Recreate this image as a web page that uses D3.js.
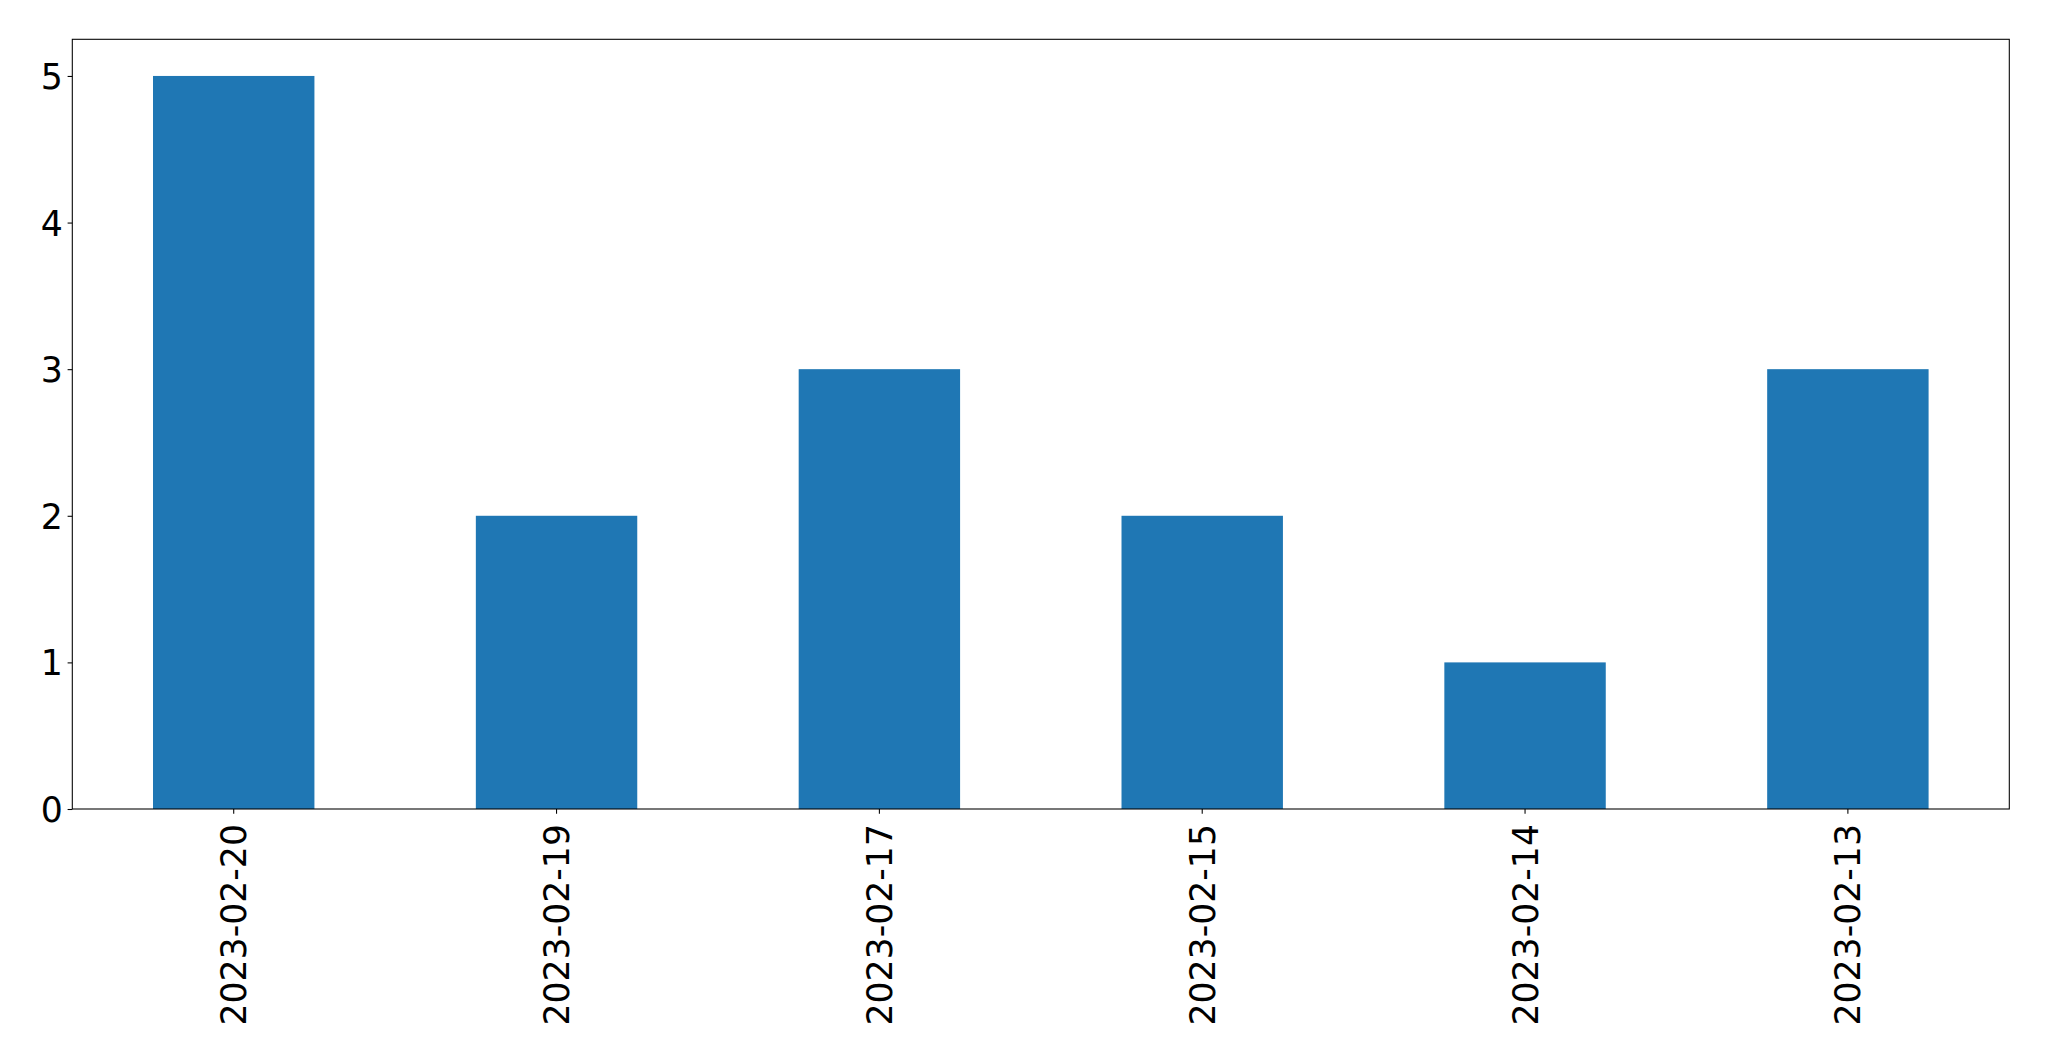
<!DOCTYPE html>
<html>
<head>
<meta charset="utf-8">
<script src="https://cdn.jsdelivr.net/npm/d3@7"></script>
<style>
html, body { margin: 0; padding: 0; background: #fff; }
svg { display: block; }
text { font-family: "DejaVu Sans", sans-serif; fill: #000; }
</style>
</head>
<body>
<script>
const categories = ["2023-02-20", "2023-02-19", "2023-02-17", "2023-02-15", "2023-02-14", "2023-02-13"];
const values = [5, 2, 3, 2, 1, 3];
const yTicks = [0, 1, 2, 3, 4, 5];

(function () {
const W = 2049, H = 1061;
const mLeft = 72.3, mRight = 2009.3, mTop = 39.3, mBottom = 809;
const fontSize = 34.7;

const svg = d3.select("body").append("svg").attr("width", W).attr("height", H);

const x = d3.scaleBand().domain(categories).range([mLeft, mRight]).paddingInner(0.5).paddingOuter(0.25);
const y = d3.scaleLinear().domain([0, 5.25]).range([mBottom, mTop]);

svg.append("g").selectAll("rect").data(values).join("rect")
  .attr("x", (d, i) => x(categories[i]))
  .attr("width", x.bandwidth())
  .attr("y", d => y(d))
  .attr("height", d => y(0) - y(d))
  .attr("fill", "#1f77b4");

// y axis
const yAxis = svg.append("g").attr("transform", `translate(${mLeft},0)`)
  .call(d3.axisLeft(y).tickValues(yTicks).tickFormat(d3.format("d")).tickSize(4.7).tickPadding(4.7));
yAxis.select(".domain").remove();
yAxis.selectAll("line").attr("stroke", "#000").attr("stroke-width", 1.07);
yAxis.selectAll("text").attr("font-size", fontSize).attr("font-family", "DejaVu Sans").attr("dy", "0.36em");

// x axis
const xAxis = svg.append("g").attr("transform", `translate(0,${mBottom})`)
  .call(d3.axisBottom(x).tickSize(4.7).tickPadding(0));
xAxis.select(".domain").remove();
xAxis.selectAll("line").attr("stroke", "#000").attr("stroke-width", 1.07);
xAxis.selectAll("text")
  .attr("font-size", fontSize).attr("font-family", "DejaVu Sans")
  .attr("text-anchor", "end")
  .attr("transform", "translate(0,15) rotate(-90)")
  .attr("x", 0).attr("y", 0).attr("dy", "0.36em");

// frame
svg.append("rect")
  .attr("x", mLeft).attr("y", mTop)
  .attr("width", mRight - mLeft).attr("height", mBottom - mTop)
  .attr("fill", "none").attr("stroke", "#000").attr("stroke-width", 1.07);
})();
</script>
</body>
</html>
